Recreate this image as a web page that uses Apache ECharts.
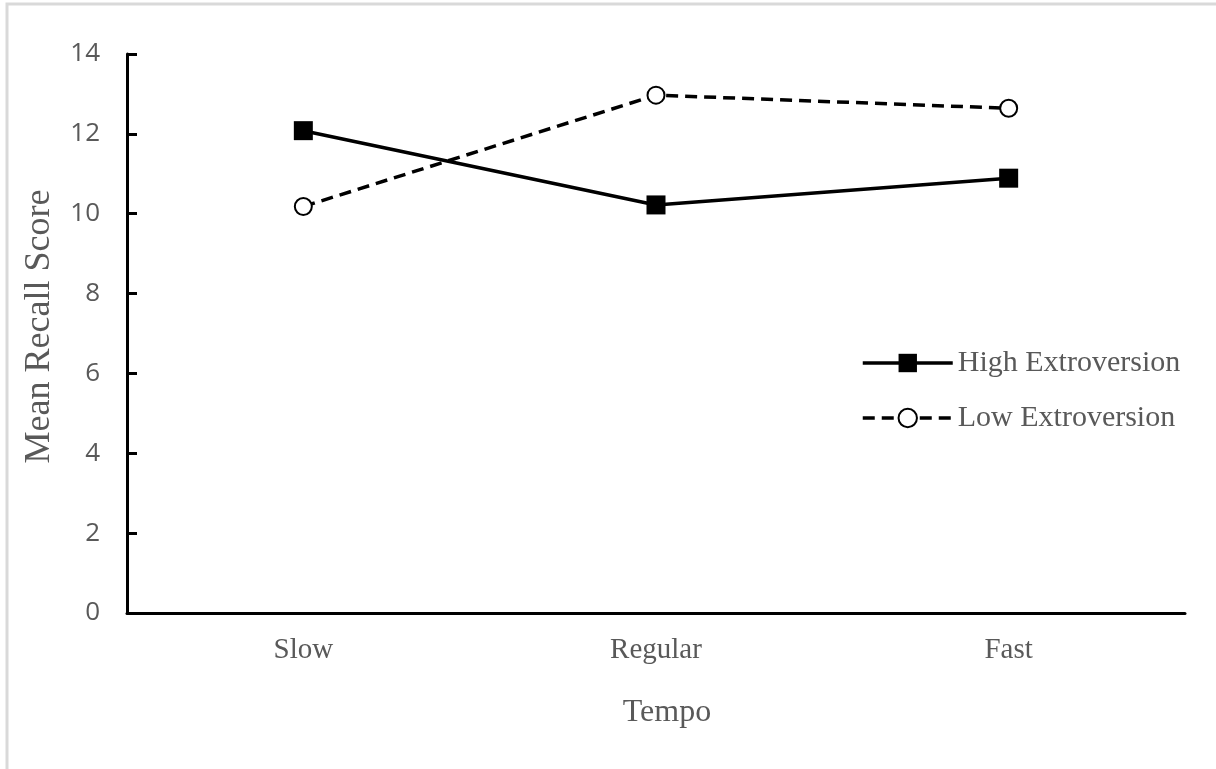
<!DOCTYPE html>
<html>
<head>
<meta charset="utf-8">
<script src="https://cdn.jsdelivr.net/npm/echarts@6/dist/echarts.min.js"></script>
<style>
html,body{margin:0;padding:0;background:#fff;}
#main{width:1216px;height:769px;}
</style>
</head>
<body>
<div id="main"></div>
<script>
var categories = ['Slow', 'Regular', 'Fast'];
var highExtroversion = [12.08, 10.22, 10.89];
var lowExtroversion = [10.18, 12.97, 12.64];
var yTicks = { min: 0, max: 14, interval: 2 };

var chart = echarts.init(document.getElementById('main'), null, { renderer: 'canvas' });
var serif = '"Liberation Serif", "DejaVu Serif", serif';
var sans = '"Open Sans", "Liberation Sans", sans-serif';

chart.setOption({
  backgroundColor: '#ffffff',
  animation: false,
  graphic: [{
    type: 'rect',
    shape: { x: 7, y: 4, width: 1250, height: 800 },
    style: { fill: 'none', stroke: '#d9d9d9', lineWidth: 3 },
    silent: true
  }],
  grid: { left: 127, right: 31, top: 54, bottom: 156, containLabel: false },
  legend: {
    orient: 'vertical',
    left: 856,
    top: 343,
    itemWidth: 90,
    itemHeight: 23,
    itemGap: 25,
    textStyle: { fontFamily: serif, fontSize: 30, lineHeight: 30, color: '#595959', padding: [0, 0, 0, 0] },
    data: [
      { name: 'High Extroversion', lineStyle: { width: 3.5 } },
      { name: 'Low Extroversion', lineStyle: { width: 3.5 } }
    ]
  },
  xAxis: {
    type: 'category',
    data: categories,
    boundaryGap: true,
    name: 'Tempo',
    nameLocation: 'middle',
    nameGap: 84,
    nameTextStyle: { fontFamily: serif, fontSize: 32, color: '#595959', padding: [0, 0, 0, 22] },
    axisLine: { lineStyle: { color: '#000', width: 3 } },
    axisTick: { show: false },
    axisLabel: { fontFamily: serif, fontSize: 29, color: '#595959', margin: 23 },
    splitLine: { show: false }
  },
  yAxis: {
    type: 'value',
    min: yTicks.min,
    max: yTicks.max,
    interval: yTicks.interval,
    name: 'Mean Recall Score',
    nameLocation: 'middle',
    nameGap: 69,
    nameTextStyle: { fontFamily: serif, fontSize: 36, color: '#595959', padding: [0, 0, 0, 14] },
    axisLine: { show: true, lineStyle: { color: '#000', width: 3 } },
    axisTick: { show: true, inside: true, length: 10, lineStyle: { color: '#000', width: 3 } },
    axisLabel: { fontFamily: sans, fontSize: 26, color: '#595959', margin: 27 },
    splitLine: { show: false }
  },
  series: [{
    name: 'High Extroversion',
    type: 'line',
    data: highExtroversion,
    symbol: 'rect',
    symbolSize: 19,
    itemStyle: { color: '#000' },
    lineStyle: { color: '#000', width: 3.5 },
    z: 3
  }, {
    name: 'Low Extroversion',
    type: 'line',
    data: lowExtroversion,
    symbol: 'emptyCircle',
    symbolSize: 17,
    itemStyle: { color: '#000', borderColor: '#000', borderWidth: 3 },
    lineStyle: { color: '#000', width: 3.5, type: [12, 7] },
    z: 2
  }]
});
</script>
</body>
</html>
